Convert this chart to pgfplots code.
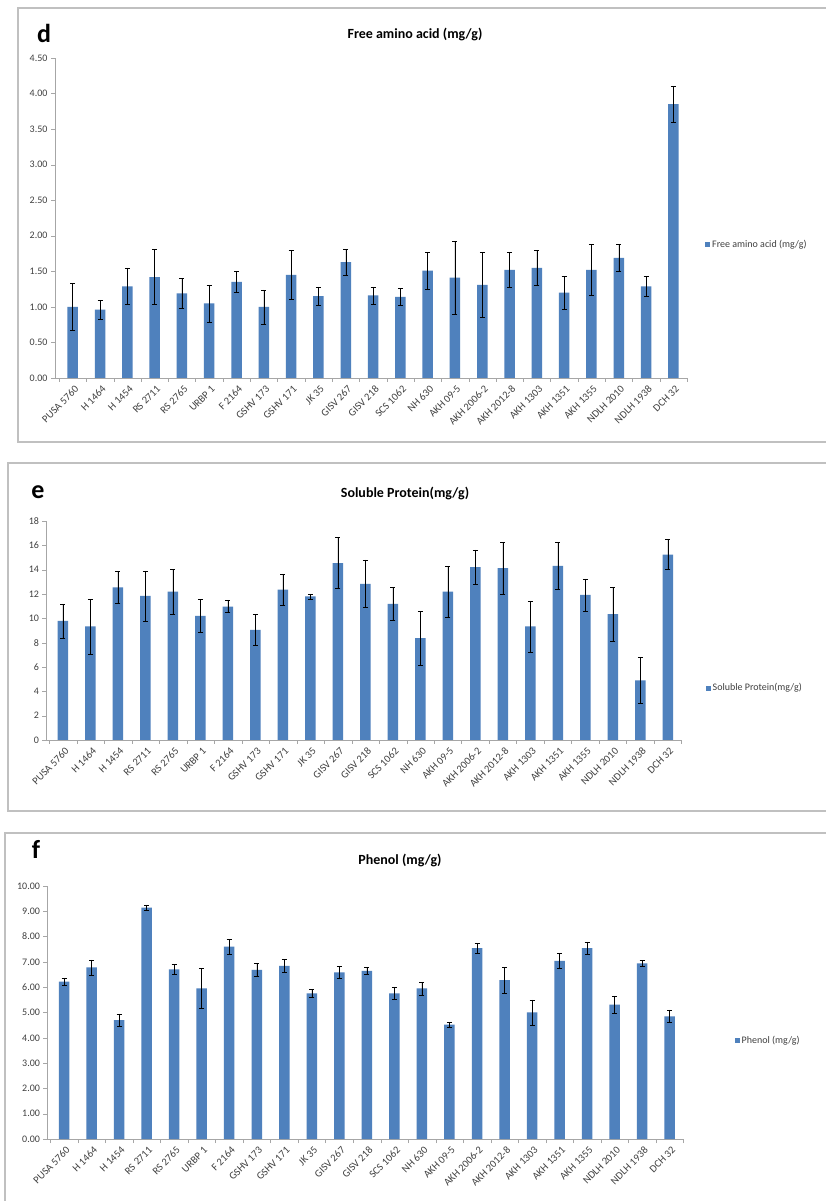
\documentclass[border=0pt]{standalone}
\usepackage{fontspec}
\setmainfont{Carlito}
\usepackage{pgfplots}
\pgfplotsset{compat=1.18}
\usepackage{pgfplotstable}
\definecolor{barblue}{HTML}{4F81BD}
\definecolor{axgray}{HTML}{A6A6A6}
\definecolor{txtgray}{HTML}{404040}
\definecolor{boxgray}{HTML}{C0C0C0}

\pgfplotstableread{
x y e
0 1.00 0.33
1 0.96 0.13
2 1.29 0.26
3 1.42 0.39
4 1.19 0.21
5 1.05 0.26
6 1.35 0.15
7 1.00 0.24
8 1.45 0.34
9 1.15 0.13
10 1.63 0.18
11 1.16 0.12
12 1.14 0.12
13 1.51 0.26
14 1.41 0.51
15 1.31 0.46
16 1.52 0.25
17 1.55 0.24
18 1.20 0.23
19 1.52 0.36
20 1.69 0.19
21 1.29 0.14
22 3.85 0.25
}\dataD

\pgfplotstableread{
x y e
0 9.79 1.40
1 9.33 2.25
2 12.54 1.30
3 11.85 2.05
4 12.20 1.85
5 10.20 1.38
6 10.97 0.50
7 9.05 1.30
8 12.35 1.30
9 11.80 0.20
10 14.54 2.10
11 12.84 1.97
12 11.19 1.35
13 8.37 2.20
14 12.20 2.10
15 14.20 1.43
16 14.13 2.14
17 9.33 2.10
18 14.32 1.95
19 11.93 1.32
20 10.34 2.20
21 4.90 1.90
22 15.23 1.23
}\dataE

\pgfplotstableread{
x y e
0 6.22 0.15
1 6.78 0.30
2 4.70 0.25
3 9.15 0.10
4 6.70 0.20
5 5.95 0.80
6 7.60 0.30
7 6.68 0.25
8 6.84 0.25
9 5.76 0.15
10 6.59 0.22
11 6.65 0.12
12 5.76 0.25
13 5.95 0.25
14 4.52 0.10
15 7.54 0.20
16 6.28 0.50
17 5.00 0.50
18 7.04 0.30
19 7.54 0.25
20 5.31 0.35
21 6.94 0.12
22 4.85 0.25
}\dataF

\pgfplotsset{
  panel/.style={
    scale only axis,
    anchor=south west,
    ybar, bar width=10.5pt,
    xmax=22.5,
    xtick={0,...,22},
    xticklabels={PUSA 5760, H 1464, H 1454, RS 2711, RS 2765, URBP 1, F 2164, GSHV 173, GSHV 171, JK 35, GISV 267, GISV 218, SCS 1062, NH 630, AKH 09-5, AKH 2006-2, AKH 2012-8, AKH 1303, AKH 1351, AKH 1355, NDLH 2010, NDLH 1938, DCH 32},
    x tick label style={rotate=45, anchor=north east, font=\fontsize{10.5}{12}\selectfont, text=txtgray, inner sep=1pt, yshift=-2pt},
    major x tick style={draw=none},
    minor xtick={-0.5,0.5,...,22.5},
    minor x tick style={axgray},
    minor tick length=4pt,
    major tick length=4pt,
    tick align=outside,
    axis x line*=bottom, axis y line*=left,
    axis line style={axgray, line width=0.6pt},
    ytick style={axgray},
    y tick label style={font=\fontsize{10}{11}\selectfont, text=txtgray},
    /pgf/number format/assume math mode=true,
    ymin=0,
    legend image code/.code={\fill[barblue] (0pt,-2.5pt) rectangle (5pt,2.5pt);},
    legend style={draw=none, fill=none, font=\fontsize{10}{11}\selectfont, text=txtgray, anchor=west, inner sep=0pt},
  },
  bars/.style={barblue, fill=barblue, draw=none,
    error bars/.cd, y dir=both, y explicit,
    error bar style={black, line width=0.5pt},
    error mark options={black, line width=0.5pt, mark size=2.5pt, rotate=90}},
}

\begin{document}
\begin{tikzpicture}
\useasboundingbox (0pt,0pt) rectangle (826pt,1201pt);
\clip (0pt,0pt) rectangle (826pt,1201pt);
\fill[white] (0pt,0pt) rectangle (826pt,1201pt);
% panel frames
\draw[boxgray, line width=1.3pt] (18pt,759pt) rectangle (840pt,1193pt);
\draw[boxgray, line width=1.3pt] (8pt,390pt) rectangle (840pt,738pt);
\draw[boxgray, line width=1.3pt] (5pt,-10pt) rectangle (840pt,368pt);

% panel d
\node[font=\fontsize{26}{28}\bfseries\selectfont] at (44pt,1168pt) {d};
\node[font=\fontsize{14}{16}\bfseries\selectfont] at (415pt,1166pt) {Free amino acid (mg/g)};
\begin{axis}[panel, at={(55pt,823pt)}, width=632pt, height=320pt,
  xmin=-0.65, ymax=4.5, ytick={0,0.5,...,4.5},
  yticklabel style={/pgf/number format/.cd, fixed, fixed zerofill, precision=2},
  legend style={at={(1,0.416)}, xshift=18pt}]
\addplot[bars] table[x=x, y=y, y error=e] {\dataD};
\addlegendentry{Free amino acid (mg/g)}
\end{axis}

% panel e
\node[font=\fontsize{26}{28}\bfseries\selectfont] at (38pt,709pt) {e};
\node[font=\fontsize{14}{16}\bfseries\selectfont] at (405pt,707pt) {Soluble Protein(mg/g)};
\begin{axis}[panel, at={(46.5pt,461pt)}, width=635pt, height=219pt,
  xmin=-0.6, ymax=18, ytick={0,2,...,18},
  legend style={at={(1,0.237)}, xshift=24pt}]
\addplot[bars] table[x=x, y=y, y error=e] {\dataE};
\addlegendentry{Soluble Protein(mg/g)}
\end{axis}

% panel f
\node[font=\fontsize{26}{28}\bfseries\selectfont] at (36pt,352pt) {f};
\node[font=\fontsize{14}{16}\bfseries\selectfont] at (400pt,341pt) {Phenol (mg/g)};
\begin{axis}[panel, at={(47.5pt,62pt)}, width=636pt, height=253pt,
  xmin=-0.6, ymax=10, ytick={0,1,...,10},
  yticklabel style={/pgf/number format/.cd, fixed, fixed zerofill, precision=2},
  legend style={at={(1,0.39)}, xshift=51pt}]
\addplot[bars] table[x=x, y=y, y error=e] {\dataF};
\addlegendentry{Phenol (mg/g)}
\end{axis}
\end{tikzpicture}
\end{document}
